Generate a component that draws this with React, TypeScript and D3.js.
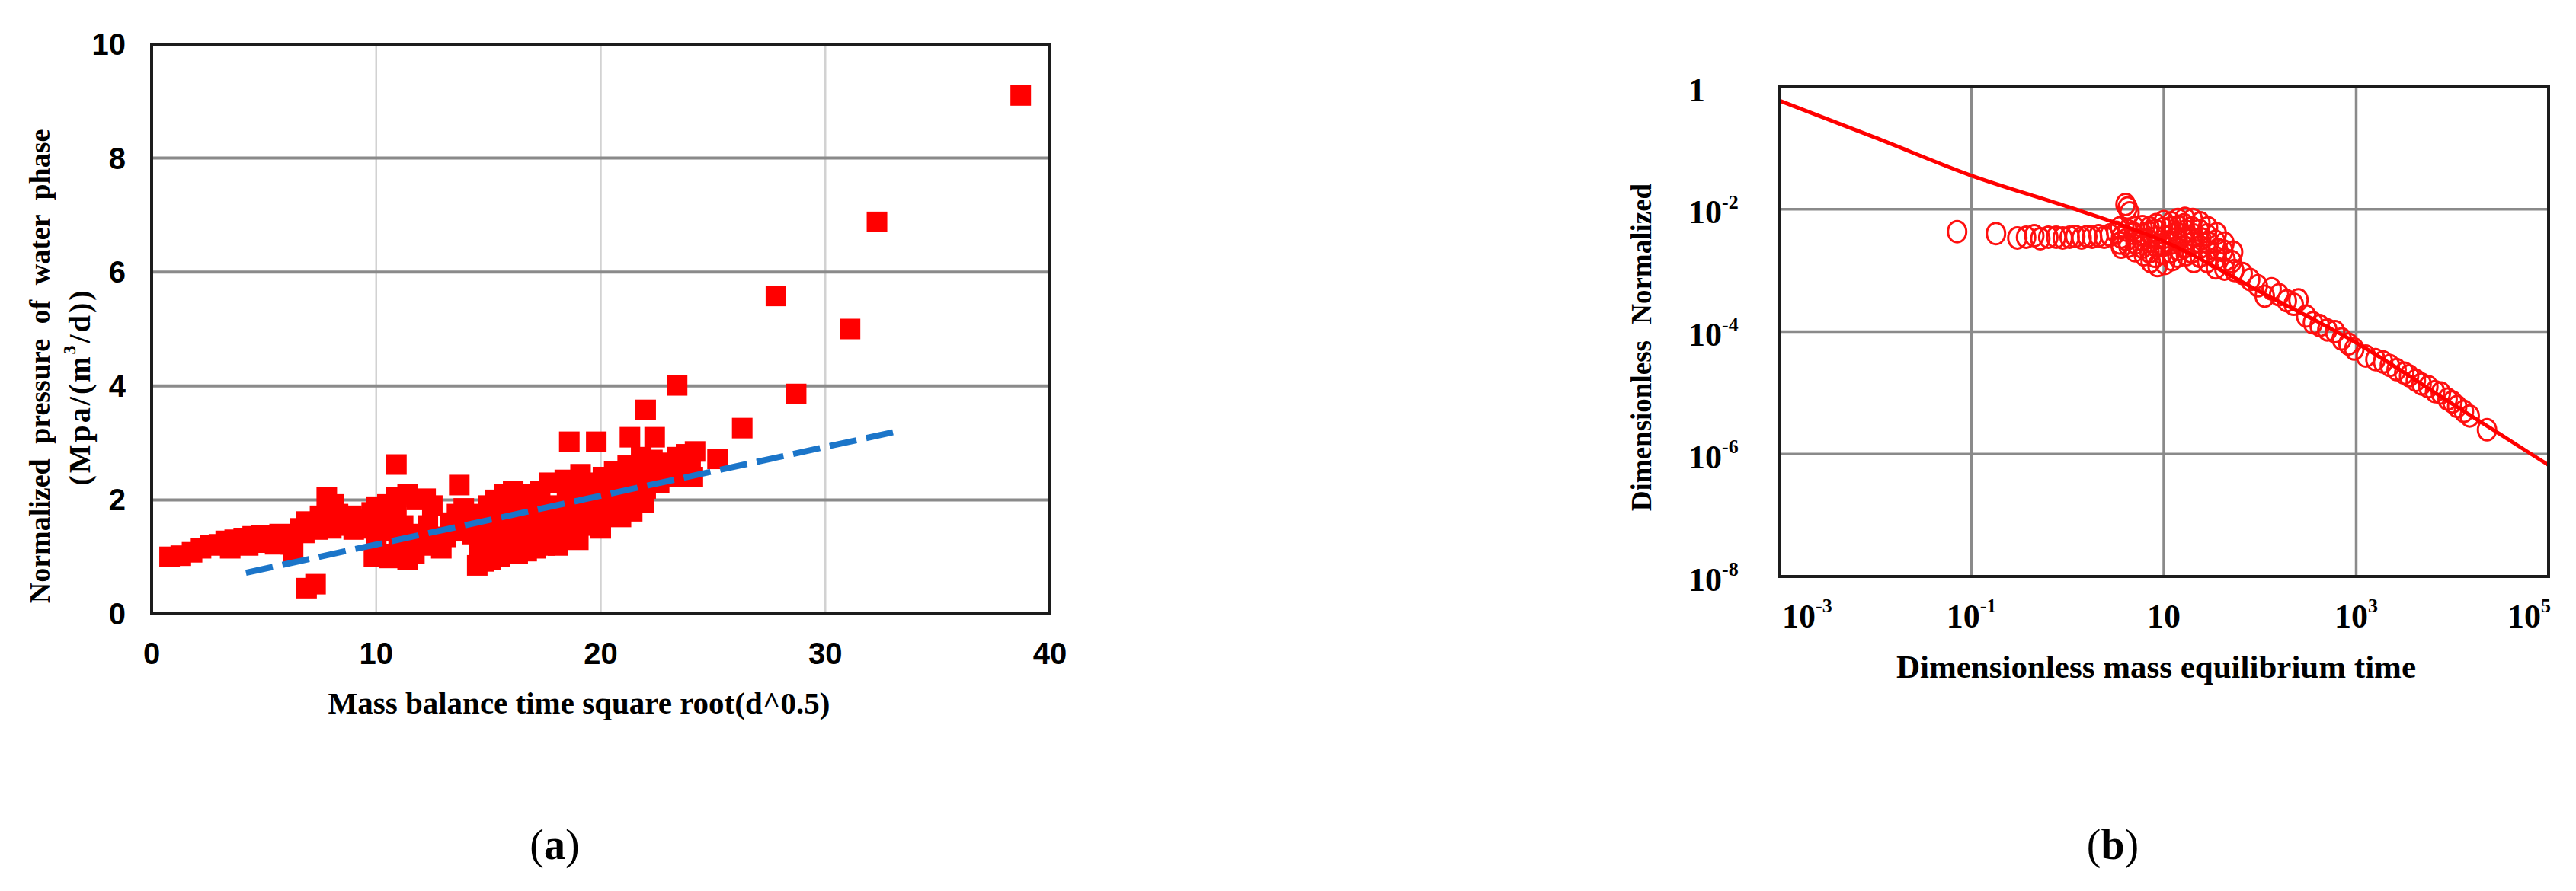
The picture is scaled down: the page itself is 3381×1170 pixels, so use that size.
import React from 'react'
import * as d3 from 'd3'

const serif = '"Liberation Serif", "Times New Roman", serif'
const sans = '"Liberation Sans", Arial, sans-serif'

// ---- panel (a): normalized pressure of water phase vs sqrt of mass balance time
const aTicksX = [0, 10, 20, 30, 40]
const aTicksY = [0, 2, 4, 6, 8, 10]
const aGridX = [10, 20, 30]
const aGridY = [2, 4, 6, 8]

const earlyWater: [number, number][] = [
  [0.8, 1.0], [1.3, 1.02], [1.8, 1.08], [2.2, 1.15], [2.6, 1.2], [3.0, 1.22], [3.3, 1.28], [3.7, 1.3],
  [4.1, 1.33], [4.5, 1.36], [4.9, 1.38], [5.3, 1.38], [5.7, 1.4], [6.0, 1.38], [6.2, 1.22], [6.3, 1.08],
  [3.5, 1.15], [4.3, 1.2], [5.0, 1.25], [5.5, 1.22],
  [6.6, 1.5], [6.8, 1.42], [6.9, 1.62], [7.2, 1.55], [7.4, 1.48], [7.5, 1.72], [7.8, 2.05], [8.0, 1.5],
  [8.1, 1.92], [8.3, 1.75], [8.5, 1.55], [8.6, 1.62], [8.9, 1.72], [9.0, 1.48], [9.2, 1.58], [9.5, 1.65],
  [9.6, 1.5], [9.8, 1.78], [6.9, 0.45], [7.3, 0.52],
]

const midWater: [number, number][] = [
  [9.9, 1.0], [10.3, 1.05], [10.6, 0.98], [11.4, 0.95], [11.7, 1.05], [10.0, 1.3], [10.4, 1.45], [10.7, 1.6],
  [10.2, 1.72], [10.0, 1.88], [10.5, 1.92], [10.9, 1.75], [11.2, 1.55], [11.5, 1.4], [11.0, 1.25], [10.9, 2.62],
  [10.9, 2.05], [11.4, 2.1], [11.8, 2.0], [12.2, 2.02], [12.5, 1.9], [12.3, 1.55], [12.0, 1.35], [12.6, 1.2],
  [12.9, 1.15], [13.1, 1.35], [13.3, 1.6], [13.6, 1.75], [13.9, 1.85], [13.7, 2.26], [13.4, 1.45], [14.1, 1.6],
  [14.3, 1.4],
  [14.5, 0.85], [14.8, 0.92], [15.1, 0.95], [15.5, 1.0], [15.9, 1.05], [16.3, 1.05], [16.7, 1.1], [17.1, 1.15],
  [17.5, 1.2], [17.9, 1.25], [14.6, 1.2], [14.9, 1.45], [15.2, 1.3], [15.4, 1.6], [15.6, 1.4], [15.8, 1.75],
  [16.0, 1.25], [16.2, 1.55], [16.4, 1.85], [16.6, 1.4], [16.8, 1.65], [17.0, 1.95], [17.2, 1.5], [17.4, 1.75],
  [17.6, 1.4], [17.8, 1.9], [14.7, 1.75], [15.0, 1.9], [15.3, 2.0], [15.7, 2.1], [16.1, 2.15], [16.5, 2.1],
  [16.9, 2.05], [17.3, 2.15], [17.7, 2.3], [15.2, 1.1], [16.0, 1.6], [16.8, 1.3], [17.5, 1.6],
]

const lateWater: [number, number][] = [
  [18.0, 1.4], [18.2, 1.6], [18.3, 1.85], [18.5, 2.1], [18.4, 2.35], [18.7, 1.5], [18.8, 1.75], [18.9, 2.0],
  [19.0, 2.25], [19.1, 2.45], [18.6, 3.02], [19.2, 1.55], [19.4, 1.8], [19.5, 2.05], [19.6, 2.3], [19.8, 3.02],
  [19.7, 1.6], [19.9, 1.9], [20.0, 2.15], [20.1, 2.4], [20.0, 1.5], [20.3, 1.8], [20.4, 2.05], [20.5, 2.3],
  [20.6, 2.5], [20.8, 1.75], [20.9, 2.0], [21.0, 2.2], [21.1, 2.45], [21.2, 2.6], [21.3, 3.1], [21.4, 1.8],
  [21.5, 2.05], [21.6, 2.3], [21.7, 2.55], [21.8, 2.75], [21.9, 1.95], [22.0, 2.2], [22.0, 3.58], [22.2, 2.45],
  [22.3, 2.7], [22.4, 3.1], [18.1, 1.2], [19.0, 1.3], [20.9, 1.7],
  [22.6, 2.3], [22.8, 2.5], [23.0, 2.65], [23.2, 2.4], [23.4, 2.75], [23.6, 2.55], [23.8, 2.8], [24.0, 2.6],
  [24.2, 2.85], [24.1, 2.4], [23.4, 4.01],
  [25.2, 2.72], [26.3, 3.26], [28.7, 3.86], [27.8, 5.58], [31.1, 5.0], [32.3, 6.88], [38.7, 9.1],
]

// linear fit shown as dashed blue line
const trendStart: [number, number] = [4.2, 0.72]
const trendEnd: [number, number] = [33.4, 3.22]

// ---- panel (b): dimensionless normalized vs dimensionless mass equilibrium time (log-log)
const bTicksX = [1e-3, 1e-1, 1e1, 1e3, 1e5]
const bTicksY = [1, 1e-2, 1e-4, 1e-6, 1e-8]
const bGridX = [1e-1, 1e1, 1e3]
const bGridY = [1e-2, 1e-4, 1e-6]

const typeCurve: [number, number][] = [
  [1e-3, 0.6], [1e-2, 0.148], [1e-1, 0.0355], [1, 0.011], [3.16, 6.0e-3], [10, 3.0e-3],
  [100, 4.5e-4], [1e3, 6.6e-5], [1e4, 6.6e-6], [1e5, 6.6e-7],
]

const flatPoints: [number, number][] = [
  [0.071, 4.3e-3], [0.18, 4.0e-3], [0.3, 3.4e-3], [0.37, 3.5e-3], [0.45, 3.7e-3], [0.52, 3.3e-3],
  [0.63, 3.5e-3], [0.76, 3.5e-3], [0.89, 3.4e-3], [1.05, 3.5e-3], [1.2, 3.6e-3], [1.4, 3.4e-3],
  [1.6, 3.6e-3], [1.8, 3.5e-3], [2.1, 3.7e-3], [2.4, 3.5e-3], [2.75, 3.8e-3], [3.2, 4.2e-3],
  [4.0, 1.2e-2], [4.2, 1.05e-2], [4.4, 8.7e-3],
]

const clusterPoints: [number, number][] = [
  [3.5, 5.0e-3], [3.6, 3.5e-3], [3.5, 2.8e-3], [3.6, 2.4e-3],
  [4.2, 4.5e-3], [4.1, 3.2e-3], [4.3, 2.5e-3],
  [5.0, 5.0e-3], [4.9, 4.0e-3], [5.1, 2.8e-3], [5.0, 2.1e-3],
  [6.0, 5.2e-3], [6.1, 3.8e-3], [5.9, 3.2e-3], [6.0, 2.4e-3], [6.2, 1.8e-3],
  [7.1, 5.0e-3], [7.0, 4.2e-3], [7.2, 3.0e-3], [7.1, 2.0e-3], [7.3, 1.4e-3],
  [8.3, 5.6e-3], [8.2, 4.5e-3], [8.4, 3.4e-3], [8.3, 2.5e-3], [8.1, 1.7e-3], [8.6, 1.2e-3],
  [10, 6.3e-3], [9.8, 4.8e-3], [10.2, 3.5e-3], [10, 2.6e-3], [9.7, 1.9e-3], [10.3, 1.3e-3],
  [12, 6.0e-3], [11.8, 5.0e-3], [12.2, 3.8e-3], [12, 2.8e-3], [11.7, 2.0e-3], [12.3, 1.5e-3],
  [14, 6.8e-3], [14.2, 5.2e-3], [13.8, 4.0e-3], [14, 3.0e-3], [14.3, 2.2e-3], [13.9, 1.7e-3],
  [16.6, 7.1e-3], [16.3, 5.6e-3], [16.9, 4.4e-3], [16.6, 3.2e-3], [16.2, 2.4e-3], [17, 1.8e-3],
  [20, 6.8e-3], [19.6, 5.0e-3], [20.4, 3.8e-3], [20, 2.8e-3], [19.5, 2.0e-3], [20.5, 1.4e-3],
  [24, 6.0e-3], [23.5, 4.5e-3], [24.5, 3.3e-3], [24, 2.4e-3], [23.6, 1.7e-3],
  [28.8, 5.0e-3], [28, 3.8e-3], [29.5, 2.8e-3], [28.8, 2.0e-3], [28.2, 1.4e-3],
  [35.5, 4.0e-3], [34.5, 3.0e-3], [36.5, 2.2e-3], [35.5, 1.6e-3], [34.8, 1.1e-3],
  [42.7, 2.8e-3], [41.5, 2.1e-3], [43.8, 1.5e-3], [42.7, 1.05e-3],
  [52.5, 2.0e-3], [51, 1.4e-3], [54, 1.0e-3],
]

const tailPoints: [number, number][] = [
  [66, 8.9e-4], [79, 7.1e-4], [95, 5.6e-4], [112, 3.8e-4], [132, 5.0e-4], [158, 4.0e-4], [190, 3.2e-4],
  [224, 2.8e-4], [251, 3.3e-4], [302, 1.8e-4], [355, 1.4e-4], [417, 1.26e-4], [501, 1.07e-4], [603, 1.0e-4],
  [708, 7.6e-5], [832, 6.3e-5], [955, 5.2e-5], [1259, 4.0e-5], [1585, 3.5e-5], [1905, 3.2e-5], [2239, 2.8e-5],
  [2630, 2.4e-5], [3162, 2.1e-5], [3548, 1.9e-5], [4169, 1.6e-5], [4786, 1.4e-5], [5623, 1.26e-5],
  [6607, 1.05e-5], [7586, 1.0e-5], [8913, 7.9e-6], [10000, 7.1e-6], [11220, 6.0e-6], [13183, 5.0e-6],
  [15136, 4.2e-6], [22909, 2.5e-6],
]

const PowerLabel = ({ v }: { v: number }) => {
  const e = Math.round(Math.log10(v))
  if (e === 0) return <>1</>
  if (e === 1) return <>10</>
  return (
    <>
      10<tspan fontSize={26} dy={-14}>{String(e)}</tspan>
    </>
  )
}

const App = () => {
  // panel (a) scales
  const ax = d3.scaleLinear().domain([0, 40]).range([199, 1378])
  const ay = d3.scaleLinear().domain([0, 10]).range([806, 58])
  const allWater = [...earlyWater, ...midWater, ...lateWater]

  // panel (b) scales
  const bx = d3.scaleLog().domain([1e-3, 1e5]).range([2335, 3345])
  const by = d3.scaleLog().domain([1e-8, 1]).range([757, 114])
  const curvePath = d3.line<[number, number]>()
    .x(d => bx(d[0]))
    .y(d => by(d[1]))
    .curve(d3.curveMonotoneX)(typeCurve)
  const allB = [...flatPoints, ...clusterPoints, ...tailPoints]

  return (
    <svg width={3381} height={1170} style={{ position: 'absolute', left: 0, top: 0, background: '#fff' }}>
      <rect width={3381} height={1170} fill="#fff" />

      {/* ---------- panel (a) ---------- */}
      {aGridX.map(v => (
        <line key={'agx' + v} x1={ax(v)} x2={ax(v)} y1={ay(0)} y2={ay(10)} stroke="#d2d2d2" strokeWidth={2.5} />
      ))}
      {aGridY.map(v => (
        <line key={'agy' + v} x1={ax(0)} x2={ax(40)} y1={ay(v)} y2={ay(v)} stroke="#8a8a8a" strokeWidth={4} />
      ))}
      {allWater.map(([x, y], i) => (
        <rect key={'w' + i} x={ax(x) - 13.5} y={ay(y) - 13.5} width={27} height={27} fill="#ff0000" />
      ))}
      <line
        x1={ax(trendStart[0])} y1={ay(trendStart[1])}
        x2={ax(trendEnd[0])} y2={ay(trendEnd[1])}
        stroke="#1b75c9" strokeWidth={8} strokeDasharray="36 13"
      />
      <rect x={ax(0)} y={ay(10)} width={ax(40) - ax(0)} height={ay(0) - ay(10)} fill="none" stroke="#1c1c1c" strokeWidth={4} />

      {aTicksX.map(v => (
        <text key={'atx' + v} x={ax(v)} y={858} textAnchor="middle" dominantBaseline="central"
          fontFamily={sans} fontWeight="bold" fontSize={40}>{v}</text>
      ))}
      {aTicksY.map(v => (
        <text key={'aty' + v} x={165} y={ay(v)} textAnchor="end" dominantBaseline="central"
          fontFamily={sans} fontWeight="bold" fontSize={40}>{v}</text>
      ))}
      <text transform="translate(52,481) rotate(-90)" textAnchor="middle" dominantBaseline="central"
        fontFamily={serif} fontWeight="bold" fontSize={38} wordSpacing={10}>
        Normalized pressure of water phase
      </text>
      <text transform="translate(104,508) rotate(-90)" textAnchor="middle" dominantBaseline="central"
        fontFamily={serif} fontWeight="bold" fontSize={40} letterSpacing={3}>
        (Mpa/(m<tspan fontSize={24} dy={-13}>3</tspan><tspan dy={13}>/d))</tspan>
      </text>
      <text x={760} y={923} textAnchor="middle" dominantBaseline="central"
        fontFamily={serif} fontWeight="bold" fontSize={41}>
        Mass balance time square root(d^0.5)
      </text>
      <text x={728} y={1109} textAnchor="middle" dominantBaseline="central" fontFamily={serif} fontSize={56}>
        (<tspan fontWeight="bold">a</tspan>)
      </text>

      {/* ---------- panel (b) ---------- */}
      {bGridX.map(v => (
        <line key={'bgx' + v} x1={bx(v)} x2={bx(v)} y1={by(1e-8)} y2={by(1)} stroke="#8a8a8a" strokeWidth={3.5} />
      ))}
      {bGridY.map(v => (
        <line key={'bgy' + v} x1={bx(1e-3)} x2={bx(1e5)} y1={by(v)} y2={by(v)} stroke="#8a8a8a" strokeWidth={3.5} />
      ))}
      {allB.map(([t, p], i) => (
        <ellipse key={'b' + i} cx={bx(t)} cy={by(p)} rx={12} ry={14} fill="none" stroke="#ff1010" strokeWidth={3} />
      ))}
      <path d={curvePath || ''} fill="none" stroke="#ff0000" strokeWidth={5} />
      <rect x={bx(1e-3)} y={by(1)} width={bx(1e5) - bx(1e-3)} height={by(1e-8) - by(1)} fill="none" stroke="#1c1c1c" strokeWidth={4} />

      {bTicksY.map(v => (
        <text key={'bty' + v} x={2216} y={by(v) + 4} dominantBaseline="central"
          fontFamily={serif} fontWeight="bold" fontSize={44}><PowerLabel v={v} /></text>
      ))}
      {bTicksX.map((v, i) => (
        <text key={'btx' + v}
          x={i === 0 ? bx(v) + 4 : i === bTicksX.length - 1 ? bx(v) + 3 : bx(v)}
          y={809}
          textAnchor={i === 0 ? 'start' : i === bTicksX.length - 1 ? 'end' : 'middle'}
          dominantBaseline="central"
          fontFamily={serif} fontWeight="bold" fontSize={44}><PowerLabel v={v} /></text>
      ))}
      <text transform="translate(2154,456) rotate(-90)" textAnchor="middle" dominantBaseline="central"
        fontFamily={serif} fontWeight="bold" fontSize={37} wordSpacing={12}>
        Dimensionless Normalized
      </text>
      <text x={2830} y={875} textAnchor="middle" dominantBaseline="central"
        fontFamily={serif} fontWeight="bold" fontSize={43}>
        Dimensionless mass equilibrium time
      </text>
      <text x={2773} y={1109} textAnchor="middle" dominantBaseline="central" fontFamily={serif} fontSize={56}>
        (<tspan fontWeight="bold">b</tspan>)
      </text>
    </svg>
  )
}

export default App
